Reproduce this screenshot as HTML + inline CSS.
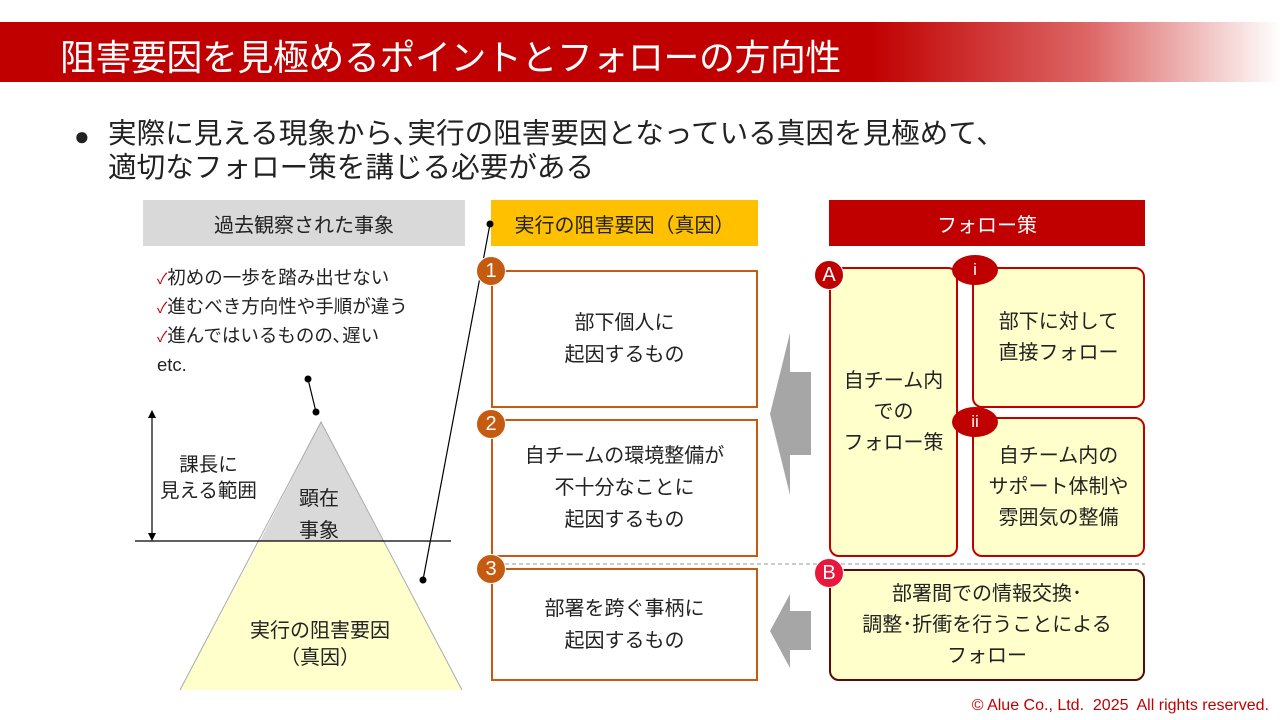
<!DOCTYPE html>
<html><head><meta charset="utf-8"><style>
*{margin:0;padding:0;box-sizing:border-box}
body{width:1280px;height:720px;position:relative;background:#fff;font-family:"Liberation Sans","Noto Sans CJK JP",sans-serif;color:#222;overflow:hidden}
.a{position:absolute}
.c{display:flex;align-items:center;justify-content:center;text-align:center}
.title{left:0;top:22px;width:1280px;height:60px;background:linear-gradient(to right,#c00000 0,#c00000 68%,#d66 85%,#fff 100%)}
.title span{position:absolute;left:60px;top:7px;color:#fff;font-size:35.8px;letter-spacing:-0.3px;white-space:nowrap}
.box{border:2px solid #c55a11;background:#fff;font-size:20px;line-height:32px}
.rb{border:2px solid #c00000;background:#ffffcc;border-radius:10px;font-size:20px;line-height:31px}
.num{width:30px;height:30px;border-radius:50%;background:#c55a11;color:#fff;font-size:20px;border:1px solid #fff}
.rc{width:30px;height:30px;border-radius:50%;background:#c00000;color:#fff;font-size:20px;border:1px solid #fff}
.ov{width:46px;height:30px;border-radius:50%;background:#c00000;color:#fff;font-size:17px}
</style></head><body>
<div class="a title"><span>阻害要因を見極めるポイントとフォローの方向性</span></div>
<div class="a" style="left:74px;top:119px;font-size:26px;line-height:34px">●</div>
<div class="a" style="left:108px;top:117px;font-size:28.6px;line-height:34px;white-space:nowrap">実際に見える現象から､実行の阻害要因となっている真因を見極めて､<br>適切なフォロー策を講じる必要がある</div>

<div class="a c" style="left:143px;top:200px;width:322px;height:46px;background:#d9d9d9;font-size:20px">過去観察された事象</div>
<div class="a c" style="left:491px;top:200px;width:267px;height:46px;background:#ffc000;font-size:20px">実行の阻害要因（真因）</div>
<div class="a c" style="left:829px;top:200px;width:316px;height:46px;background:#c00000;color:#fff;font-size:20px">フォロー策</div>

<div class="a" style="left:157px;top:264px;font-size:18.5px;line-height:27px;white-space:nowrap"><span style="color:#c00000;font-size:15px">✓</span>初めの一歩を踏み出せない<br><span style="color:#c00000;font-size:15px">✓</span>進むべき方向性や手順が違う<br><span style="color:#c00000;font-size:15px">✓</span>進んではいるものの､遅い<br>etc.</div>

<svg class="a" style="left:0;top:0" width="1280" height="720">
<polygon points="321,422 260,541 383,541" fill="#d9d9d9"/>
<polygon points="260,541 383,541 462,690 180,690" fill="#ffffcc"/>
<polyline points="180,690 321,422 462,690" fill="none" stroke="#aaa" stroke-width="1"/>
<line x1="135" y1="541" x2="451" y2="541" stroke="#000" stroke-width="1.2"/>
<line x1="152" y1="416" x2="152" y2="535" stroke="#000" stroke-width="1.2"/>
<polygon points="152,410 148,418 156,418" fill="#000"/>
<polygon points="152,541 148,533 156,533" fill="#000"/>
<line x1="308" y1="379" x2="316" y2="412" stroke="#000" stroke-width="1.2"/>
<circle cx="308" cy="379" r="3.5"/><circle cx="316" cy="412" r="3.5"/>
<line x1="490" y1="224" x2="423" y2="580" stroke="#000" stroke-width="1.2"/>
<circle cx="490" cy="224" r="3.5"/><circle cx="423" cy="580" r="3.5"/>
<line x1="491" y1="564" x2="1145" y2="564" stroke="#999" stroke-dasharray="4,3"/>
<polygon points="770,414 790,333 790,372 811,372 811,455 790,455 790,495" fill="#a6a6a6"/>
<polygon points="770,631 790,594 790,611 811,611 811,650 790,650 790,668" fill="#a6a6a6"/>
</svg>

<div class="a" style="left:160px;top:452px;font-size:19.5px;line-height:26px;text-align:center">課長に<br>見える範囲</div>
<div class="a" style="left:299px;top:483px;font-size:20px;line-height:32px;text-align:center">顕在<br>事象</div>
<div class="a" style="left:235px;top:618px;width:170px;font-size:20px;line-height:27px;text-align:center">実行の阻害要因<br>（真因）</div>

<div class="a c box" style="left:491px;top:270px;width:267px;height:138px">部下個人に<br>起因するもの</div>
<div class="a c box" style="left:491px;top:419px;width:267px;height:138px">自チームの環境整備が<br>不十分なことに<br>起因するもの</div>
<div class="a c box" style="left:491px;top:568px;width:267px;height:113px">部署を跨ぐ事柄に<br>起因するもの</div>
<div class="a c num" style="left:476px;top:256px">1</div>
<div class="a c num" style="left:476px;top:409px">2</div>
<div class="a c num" style="left:476px;top:554px">3</div>

<div class="a c rb" style="left:829px;top:267px;width:129px;height:290px">自チーム内<br>での<br>フォロー策</div>
<div class="a c rb" style="left:972px;top:267px;width:173px;height:141px">部下に対して<br>直接フォロー</div>
<div class="a c rb" style="left:972px;top:417px;width:173px;height:140px">自チーム内の<br>サポート体制や<br>雰囲気の整備</div>
<div class="a c rb" style="left:829px;top:569px;width:316px;height:112px;border-color:#5a0a0a">部署間での情報交換･<br>調整･折衝を行うことによる<br>フォロー</div>
<div class="a c rc" style="left:814px;top:260px">A</div>
<div class="a c rc" style="left:814px;top:558px;background:#e8173c">B</div>
<div class="a c ov" style="left:952px;top:255px">i</div>
<div class="a c ov" style="left:952px;top:407px">ii</div>

<div class="a" style="right:11px;top:697px;font-size:16px;color:#c00000;white-space:nowrap">© Alue Co., Ltd.&nbsp; 2025&nbsp; All rights reserved.</div>
</body></html>
